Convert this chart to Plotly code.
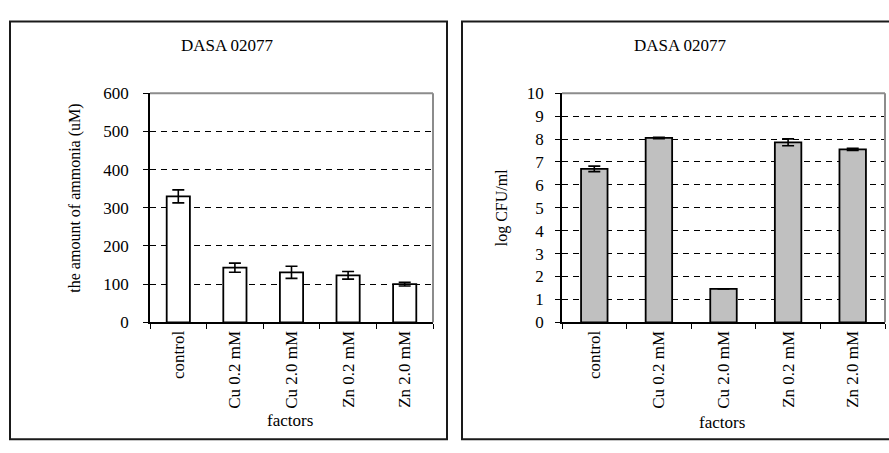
import plotly.graph_objects as go

# Treatments on the x axis of both panels
factors = ["control", "Cu 0.2 mM", "Cu 2.0 mM", "Zn 0.2 mM", "Zn 2.0 mM"]

# Ammonia produced (uM) with error
ammonia = [330, 143, 131, 123, 100]
ammonia_err = [17, 12, 16, 10, 5]

# Viable counts (log CFU/ml) with error
log_cfu = [6.70, 8.05, 1.46, 7.86, 7.55]
log_cfu_err = [0.12, 0.03, 0.0, 0.15, 0.05]

panel_title = "DASA 02077"
left_ytitle = "the amount of ammonia (uM)"
right_ytitle = "log CFU/ml"
xtitle = "factors"

W, H = 889, 453
FONT = "Liberation Serif"


def fx(x):
    return x / W


def fy(y):
    return 1 - y / H


fig = go.Figure()

fig.add_trace(go.Bar(
    x=factors, y=ammonia,
    error_y=dict(type="data", array=ammonia_err, color="black", thickness=1.6, width=6),
    marker=dict(color="white", line=dict(color="black", width=1.8)),
    xaxis="x", yaxis="y", showlegend=False,
))
fig.add_trace(go.Bar(
    x=factors, y=log_cfu,
    error_y=dict(type="data", array=log_cfu_err, color="black", thickness=1.6, width=6),
    marker=dict(color="#c0c0c0", line=dict(color="black", width=1.8)),
    xaxis="x2", yaxis="y2", showlegend=False,
))

ydom = [fy(327), fy(88)]
tickfont = dict(family=FONT, size=17, color="black")

common_x = dict(
    type="category", showline=True, linecolor="black", linewidth=1.6,
    ticks="outside", ticklen=5, tickcolor="black", tickwidth=1.3,
    tickson="boundaries", tickangle=-90, tickfont=tickfont,
    showgrid=False, zeroline=False,
)
common_y = dict(
    showline=True, linecolor="black", linewidth=1.6,
    ticks="outside", ticklen=5, tickcolor="black", tickwidth=1.3,
    tickfont=tickfont, showgrid=True, gridcolor="black", gridwidth=1.2,
    griddash="6px,5px", zeroline=False,
)

fig.update_layout(
    width=W, height=H, autosize=False,
    margin=dict(l=0, r=0, t=0, b=0),
    paper_bgcolor="white", plot_bgcolor="white",
    bargap=0.59,
    xaxis=dict(domain=[fx(150), fx(433)], anchor="y", **common_x),
    yaxis=dict(domain=ydom, anchor="x", range=[0, 600], dtick=100,
               ticklabelstandoff=11, **common_y),
    xaxis2=dict(domain=[fx(562), fx(885)], anchor="y2", **common_x),
    yaxis2=dict(domain=ydom, anchor="x2", range=[0, 10], dtick=1,
                ticklabelstandoff=8, **common_y),
)

# Panel frames (the right one runs off the edge of the figure)
for x0, x1 in [(10, 447), (462, 895)]:
    fig.add_shape(type="rect", xref="paper", yref="paper",
                  x0=fx(x0), x1=fx(x1), y0=fy(449), y1=fy(13),
                  line=dict(color="#1a1a1a", width=2), layer="above")

# Grey plot-area border on top and right edges
for xa, ya in [("x", "y"), ("x2", "y2")]:
    fig.add_shape(type="line", xref=f"{xa} domain", yref=f"{ya} domain",
                  x0=0, x1=1, y0=1, y1=1, line=dict(color="#8c8c8c", width=2))
    fig.add_shape(type="line", xref=f"{xa} domain", yref=f"{ya} domain",
                  x0=1, x1=1, y0=0, y1=1, line=dict(color="#8c8c8c", width=2))

annots = [
    dict(x=fx(228), y=fy(38), text=panel_title, textangle=0, size=17),
    dict(x=fx(680), y=fy(38), text=panel_title, textangle=0, size=17),
    dict(x=fx(290), y=fy(430), text=xtitle, textangle=0, size=17),
    dict(x=fx(722), y=fy(432), text=xtitle, textangle=0, size=17),
    dict(x=fx(75), y=fy(198), text=left_ytitle, textangle=-90, size=16),
    dict(x=fx(502), y=fy(207), text=right_ytitle, textangle=-90, size=16),
]
for a in annots:
    size = a.pop("size")
    fig.add_annotation(xref="paper", yref="paper", showarrow=False,
                       xanchor="center", yanchor="middle",
                       font=dict(family=FONT, size=size, color="black"), **a)

fig.write_html("out.html")
